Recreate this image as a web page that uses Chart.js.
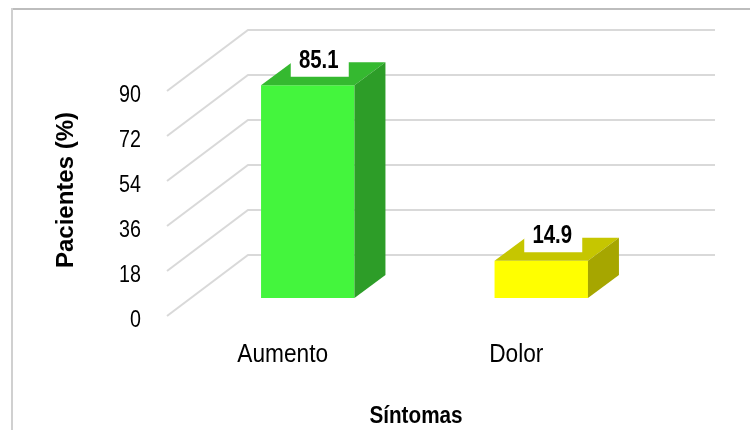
<!DOCTYPE html>
<html>
<head>
<meta charset="utf-8">
<script src="https://cdn.jsdelivr.net/npm/chart.js@4.4.1/dist/chart.umd.min.js"></script>
<style>
  html, body { margin: 0; padding: 0; background: #fff; }
</style>
</head>
<body>
<canvas id="sintomasChart" width="750" height="430"></canvas>
<script>
// Data
const categories = ["Aumento", "Dolor"];
const pacientes = [85.1, 14.9];
const yTicks = [0, 18, 36, 54, 72, 90];

// Colours for the three faces of each bar
const frontColors = ["#44f53d", "#ffff00"];
const topColors = ["#35b930", "#c6c600"];
const sideColors = ["#2d9d28", "#a6a600"];

const sans = "'Liberation Sans', Arial, sans-serif";

// depth offsets for the fake 3D look
const wall = { dx: 81, dy: -61 };      // back wall, from the front edge of the floor
const shift = { dx: 24, dy: -18 };     // bars sit a bit behind the front edge
const depth = { dx: 31, dy: -23 };     // bar depth

// no narrow font installed, so squeeze Liberation Sans instead
function narrowText(c, txt, x, y, font, sx, align) {
  c.save();
  c.translate(x, y);
  c.scale(sx, 1);
  c.font = font;
  c.textAlign = align;
  c.textBaseline = "alphabetic";
  c.fillText(txt, 0, 0);
  c.restore();
}

const box3d = {
  id: "box3d",
  beforeDraw(chart) {
    const c = chart.ctx;
    c.save();
    c.fillStyle = "#fff";
    c.fillRect(0, 0, chart.width, chart.height);
    c.fillStyle = "#bdbdbd";
    c.fillRect(11, 8, chart.width - 11, 2);
    c.fillStyle = "#d0d0d0";
    c.fillRect(11, 8, 2, chart.height - 8);
    c.restore();
  },
  beforeDatasetsDraw(chart) {
    const c = chart.ctx;
    const y = chart.scales.y;
    const a = chart.chartArea;
    c.save();
    c.strokeStyle = "#d9d9d9";
    c.lineWidth = 2;
    yTicks.forEach(v => {
      const py = y.getPixelForValue(v);
      c.beginPath();
      c.moveTo(a.left, py);
      c.lineTo(a.left + wall.dx, py + wall.dy);
      c.lineTo(a.right + wall.dx, py + wall.dy);
      c.stroke();
    });
    // native bars get drawn as the front faces, pushed back into the box
    c.translate(shift.dx, shift.dy);
  },
  afterDatasetsDraw(chart) {
    const c = chart.ctx;
    c.restore();
    c.save();
    chart.getDatasetMeta(0).data.forEach((el, i) => {
      const p = el.getProps(["x", "y", "base", "width"], true);
      const L = p.x - p.width / 2 + shift.dx;
      const R = p.x + p.width / 2 + shift.dx;
      const T = p.y + shift.dy;
      const B = p.base + shift.dy;

      // top face
      c.fillStyle = topColors[i];
      c.beginPath();
      c.moveTo(L, T);
      c.lineTo(R, T);
      c.lineTo(R + depth.dx, T + depth.dy);
      c.lineTo(L + depth.dx, T + depth.dy);
      c.closePath();
      c.fill();

      // side face
      c.fillStyle = sideColors[i];
      c.beginPath();
      c.moveTo(R, T);
      c.lineTo(R + depth.dx, T + depth.dy);
      c.lineTo(R + depth.dx, B + depth.dy);
      c.lineTo(R, B);
      c.closePath();
      c.fill();

      // value label in a white box
      const lx = p.x + 36;
      c.fillStyle = "#fff";
      c.fillRect(lx - 29, T - 45, 58, 36.5);
      c.fillStyle = "#000";
      narrowText(c, pacientes[i].toFixed(1), lx - 1, T - 17.5, "bold 25.5px " + sans, 0.8, "center");
    });
    c.restore();
  },
  afterDraw(chart) {
    const c = chart.ctx;
    const x = chart.scales.x;
    const y = chart.scales.y;
    c.save();
    c.fillStyle = "#000";
    y.ticks.forEach(t => {
      narrowText(c, String(t.value), 141, y.getPixelForValue(t.value) + 10.5, "24px " + sans, 0.82, "right");
    });
    categories.forEach((name, i) => {
      narrowText(c, name, x.getPixelForTick(i) - 1, 362, "25.5px " + sans, 0.89, "center");
    });
    narrowText(c, "Síntomas", 416, 423, "bold 23px " + sans, 0.9, "center");
    c.translate(73, 190);
    c.rotate(-Math.PI / 2);
    c.font = "bold 24px " + sans;
    c.textAlign = "center";
    c.textBaseline = "alphabetic";
    c.fillText("Pacientes (%)", 0, 0);
    c.restore();
  }
};

const ctx = document.getElementById("sintomasChart").getContext("2d");
new Chart(ctx, {
  type: "bar",
  data: {
    labels: categories,
    datasets: [{
      data: pacientes,
      backgroundColor: frontColors,
      borderWidth: 0,
      barPercentage: 0.4,
      categoryPercentage: 1
    }]
  },
  options: {
    responsive: false,
    animation: false,
    devicePixelRatio: 1,
    layout: {
      padding: { left: 0, top: 91, right: 116, bottom: 0 }
    },
    scales: {
      y: {
        min: 0,
        max: 90,
        afterBuildTicks: s => { s.ticks = yTicks.map(v => ({ value: v })); },
        afterFit: s => { s.width = 167; },
        grid: { display: false },
        border: { display: false },
        ticks: { display: false }
      },
      x: {
        afterFit: s => { s.height = 114; },
        grid: { display: false },
        border: { display: false },
        ticks: { display: false }
      }
    },
    plugins: {
      legend: { display: false },
      tooltip: { enabled: false }
    }
  },
  plugins: [box3d]
});
</script>
</body>
</html>
